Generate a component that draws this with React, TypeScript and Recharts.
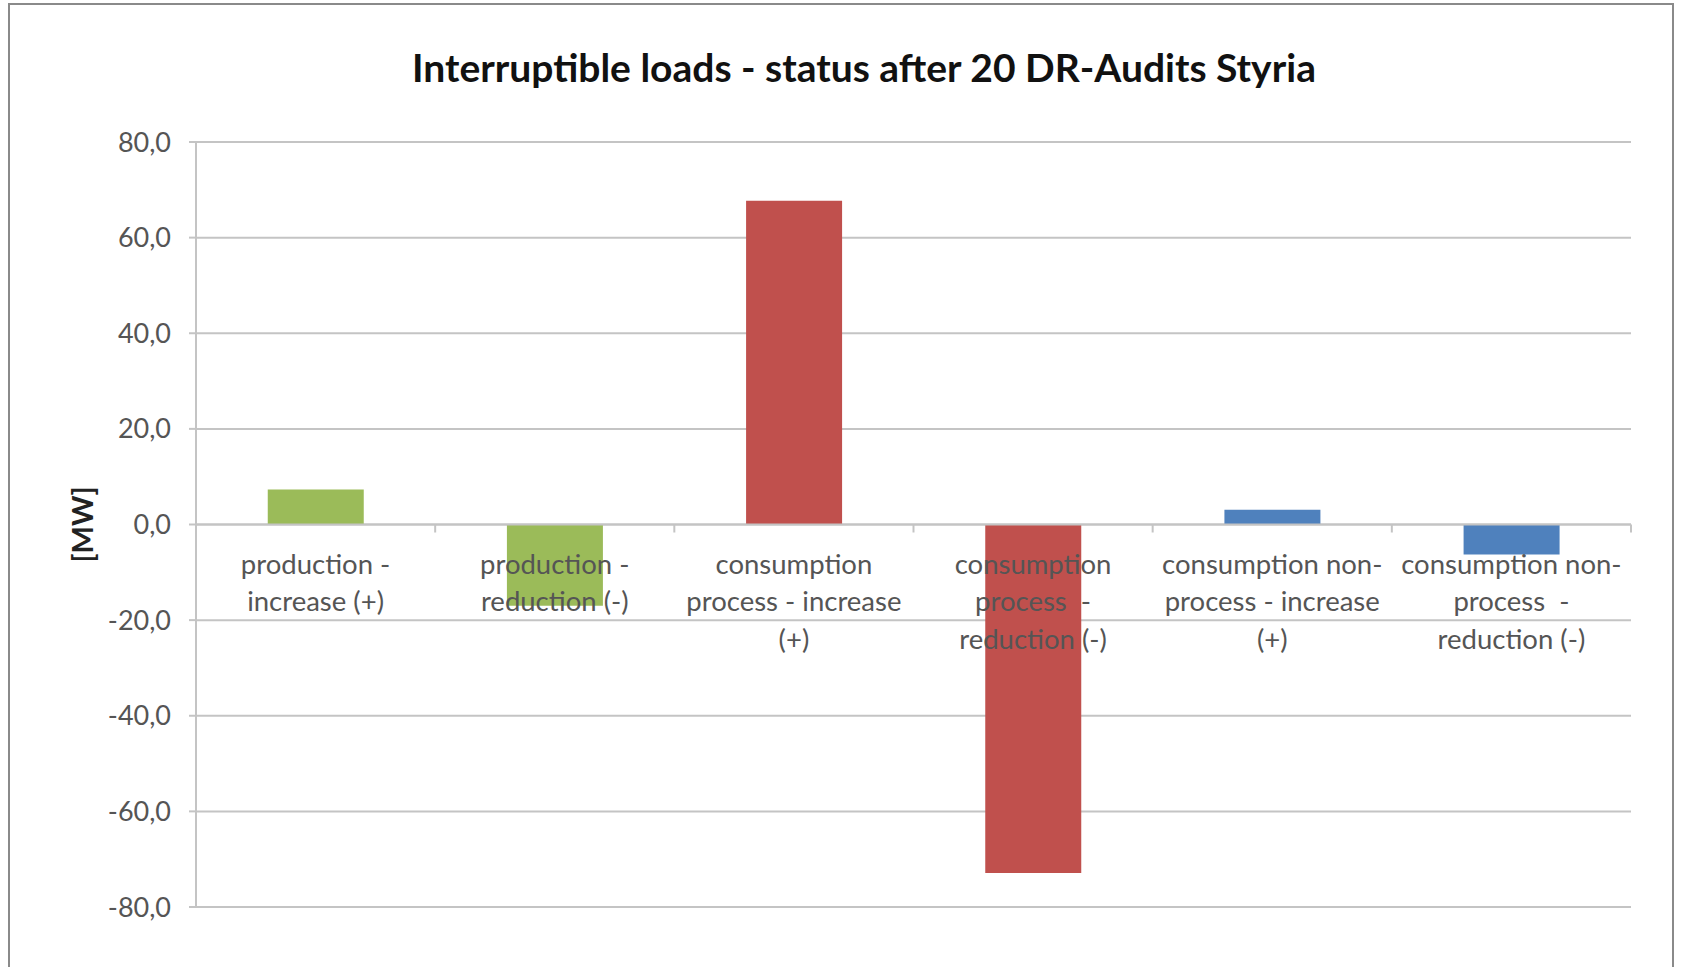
import React from 'react';
import { BarChart, Bar, Cell, XAxis, YAxis, CartesianGrid, ReferenceLine, Label } from 'recharts';

const categories = [
  'production - increase (+)',
  'production - reduction (-)',
  'consumption process - increase (+)',
  'consumption process - reduction (-)',
  'consumption non-process - increase (+)',
  'consumption non-process - reduction (-)',
];

// how the labels wrap in the original chart
const categoryLines = [
  ['production -', 'increase (+)'],
  ['production -', 'reduction (-)'],
  ['consumption', 'process - increase', '(+)'],
  ['consumption', 'process  -', 'reduction (-)'],
  ['consumption non-', 'process - increase', '(+)'],
  ['consumption non-', 'process  -', 'reduction (-)'],
];

const values = [7.3, -17.0, 67.7, -72.9, 3.1, -6.3];
const barColors = ['#9BBB59', '#9BBB59', '#C0504D', '#C0504D', '#4F81BD', '#4F81BD'];
const yTicks = [-80, -60, -40, -20, 0, 20, 40, 60, 80];

const W = 1681;
const H = 967;
const PLOT_LEFT = 196;
const PLOT_RIGHT = 1631;
const PLOT_TOP = 142;
const PLOT_BOTTOM = 907;
const ZERO_Y = (PLOT_TOP + PLOT_BOTTOM) / 2;
const BAND = (PLOT_RIGHT - PLOT_LEFT) / categories.length;

const FONT = 'Lato, "Open Sans", sans-serif';
const GRID = '#c4c4c4';
const TEXT = '#555';

const data = categories.map((name, i) => ({ name, value: values[i] }));

const CategoryTick = (props: any) => {
  const { x, payload } = props;
  const i = categories.indexOf(payload.value);
  const lines = categoryLines[i] || [payload.value];
  return (
    <g>
      <line x1={x - BAND / 2} x2={x - BAND / 2} y1={ZERO_Y} y2={ZERO_Y + 8} stroke={GRID} strokeWidth={2} />
      {i === categories.length - 1 && (
        <line x1={x + BAND / 2} x2={x + BAND / 2} y1={ZERO_Y} y2={ZERO_Y + 8} stroke={GRID} strokeWidth={2} />
      )}
      {lines.map((t, k) => (
        <text
          key={k}
          x={x}
          y={ZERO_Y + 49 + k * 37.5}
          textAnchor="middle"
          fill={TEXT}
          fontSize={27.5}
          fontFamily={FONT}
          style={{ whiteSpace: 'pre' }}
        >
          {t}
        </text>
      ))}
    </g>
  );
};

const App: React.FC = () => {
  return (
    <div style={{ position: 'absolute', left: 0, top: 0, width: W, height: H, overflow: 'hidden', background: '#fff' }}>
      <div
        style={{
          position: 'absolute',
          left: 8,
          top: 3,
          width: 1666,
          height: 1000,
          border: '2px solid #8a8a8a',
          boxSizing: 'border-box',
        }}
      />
      <div
        style={{
          position: 'absolute',
          left: 864,
          top: 45,
          transform: 'translateX(-50%)',
          whiteSpace: 'nowrap',
          fontFamily: FONT,
          fontWeight: 'bold',
          fontSize: 39,
          lineHeight: '44px',
          color: '#111',
        }}
      >
        Interruptible loads - status after 20 DR-Audits Styria
      </div>
      <div style={{ position: 'absolute', left: 0, top: 0 }}>
        <BarChart
          width={W}
          height={H}
          data={data}
          margin={{ top: PLOT_TOP, right: W - PLOT_RIGHT, bottom: 0, left: 0 }}
          barCategoryGap="30%"
        >
          <CartesianGrid vertical={false} stroke={GRID} strokeWidth={2} />
          <YAxis
            type="number"
            domain={[-80, 80]}
            ticks={yTicks}
            width={PLOT_LEFT}
            interval={0}
            tickFormatter={(v: number) => v.toFixed(1).replace('.', ',')}
            tick={{ fill: TEXT, fontSize: 27, fontFamily: FONT }}
            tickLine={{ stroke: GRID, strokeWidth: 2 }}
            tickSize={7}
            tickMargin={18}
            axisLine={{ stroke: GRID, strokeWidth: 2 }}
          >
            <Label
              content={(p: any) => {
                const vb = p.viewBox || {};
                const cx = 81;
                const cy = (vb.y ?? PLOT_TOP) + (vb.height ?? PLOT_BOTTOM - PLOT_TOP) / 2;
                return (
                  <text
                    x={cx}
                    y={cy}
                    transform={`rotate(-90 ${cx} ${cy})`}
                    textAnchor="middle"
                    dominantBaseline="central"
                    fontFamily={FONT}
                    fontWeight="bold"
                    fontSize={29}
                    fill="#222"
                  >
                    [MW]
                  </text>
                );
              }}
            />
          </YAxis>
          <Bar dataKey="value" isAnimationActive={false}>
            {data.map((_, i) => (
              <Cell key={`cell-${i}`} fill={barColors[i]} />
            ))}
          </Bar>
          <ReferenceLine y={0} stroke={GRID} strokeWidth={2} />
          <XAxis
            dataKey="name"
            height={H - PLOT_BOTTOM}
            interval={0}
            axisLine={false}
            tickLine={false}
            tick={<CategoryTick />}
          />
        </BarChart>
      </div>
    </div>
  );
};

export default App;
